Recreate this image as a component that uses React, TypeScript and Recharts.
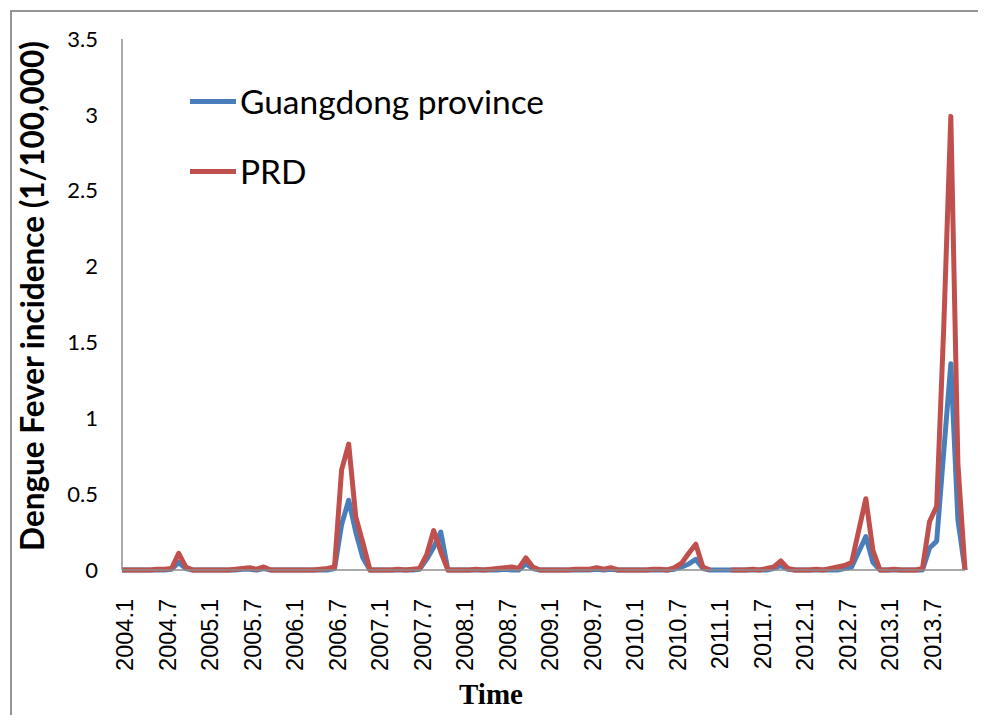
import { LineChart, Line, XAxis, YAxis, Customized } from "recharts";

// month labels 2004.1 ... 2013.12
const years = [2004, 2005, 2006, 2007, 2008, 2009, 2010, 2011, 2012, 2013];
const months = [1, 2, 3, 4, 5, 6, 7, 8, 9, 10, 11, 12];

// Guangdong province, monthly incidence (1/100,000)
const guangdong = [
  0, 0, 0, 0, 0, 0, 0, 0.005, 0.05, 0.01, 0, 0,
  0, 0, 0, 0, 0, 0.005, 0.005, 0, 0.01, 0, 0, 0,
  0, 0, 0, 0, 0, 0, 0.01, 0.3, 0.46, 0.25, 0.08, 0,
  0, 0, 0, 0, 0, 0, 0.005, 0.07, 0.15, 0.25, 0, 0,
  0, 0, 0, 0, 0, 0, 0.005, 0, 0, 0.04, 0.01, 0,
  0, 0, 0, 0, 0, 0, 0, 0.005, 0, 0.005, 0, 0,
  0, 0, 0, 0, 0, 0, 0.005, 0.02, 0.04, 0.07, 0.01, 0,
  0, 0, 0, 0, 0, 0, 0, 0, 0.01, 0.03, 0.005, 0,
  0, 0, 0, 0, 0, 0, 0.01, 0.02, 0.12, 0.22, 0.05, 0,
  0, 0, 0, 0, 0, 0, 0.145, 0.19, 0.78, 1.36, 0.33, 0,
];

// Pearl River Delta
const prd = [
  0, 0, 0, 0, 0, 0.005, 0.005, 0.01, 0.11, 0.02, 0, 0,
  0, 0, 0, 0, 0.005, 0.01, 0.015, 0.005, 0.02, 0, 0, 0,
  0, 0, 0, 0, 0.005, 0.01, 0.02, 0.66, 0.83, 0.35, 0.18, 0,
  0, 0, 0, 0.005, 0, 0.005, 0.01, 0.1, 0.26, 0.12, 0, 0,
  0, 0, 0.005, 0, 0.005, 0.01, 0.015, 0.02, 0.01, 0.08, 0.02, 0,
  0, 0, 0, 0, 0.005, 0.005, 0.005, 0.015, 0.005, 0.015, 0, 0,
  0, 0, 0, 0.005, 0.005, 0, 0.015, 0.045, 0.11, 0.17, 0.02, 0,
  null, null, 0, 0, 0, 0.005, 0, 0.01, 0.02, 0.06, 0.01, 0,
  0, 0, 0.005, 0, 0.01, 0.02, 0.03, 0.05, 0.26, 0.47, 0.13, 0,
  0, 0.005, 0, 0, 0, 0.01, 0.32, 0.42, 1.6, 2.99, 0.7, 0,
];

const yTicks = [0, 0.5, 1, 1.5, 2, 2.5, 3, 3.5];

const BLUE = "#4a7ebb";
const RED = "#c0504d";

const series = [
  { key: "guangdong", name: "Guangdong province", color: BLUE },
  { key: "prd", name: "PRD", color: RED },
];

const data = years.flatMap((yr, yi) =>
  months.map((m, mi) => ({
    month: `${yr}.${m}`,
    guangdong: guangdong[yi * 12 + mi],
    prd: prd[yi * 12 + mi],
  })),
);

const XTick = ({ x, y, payload }: any) => (
  <text
    x={x + 3}
    y={y + 21}
    transform={`rotate(-90, ${x + 3}, ${y + 21})`}
    textAnchor="end"
    dy="0.35em"
    fontFamily="'Liberation Sans', Arial, sans-serif"
    fontSize={23.5}
    fill="#000"
  >
    {payload.value}
  </text>
);

const YTick = ({ y, payload }: any) => (
  <text
    x={86}
    y={y}
    textAnchor="end"
    dy="0.35em"
    fontFamily="Lato, sans-serif"
    fontSize={22}
    fill="#000"
  >
    {payload.value}
  </text>
);

const Titles = () => (
  <g>
    <text
      x={32}
      y={284}
      transform="rotate(-90, 32, 284)"
      textAnchor="middle"
      fontFamily="Lato, sans-serif"
      fontWeight="bold"
      fontSize={31.5}
      fill="#000"
    >
      Dengue Fever incidence (1/100,000)
    </text>
    <text
      x={479}
      y={692}
      textAnchor="middle"
      fontFamily="'Liberation Serif', 'Times New Roman', serif"
      fontWeight="bold"
      fontSize={29}
      fill="#000"
    >
      Time
    </text>
  </g>
);

export default function App() {
  return (
    <div style={{ padding: "2px 0 0 2px" }}>
      <div
        style={{
          position: "relative",
          width: 966,
          height: 703,
          borderLeft: "2px solid #959595",
          borderTop: "2px solid #959595",
          background: "#fff",
        }}
      >
        <LineChart
          width={966}
          height={700}
          data={data}
          margin={{ top: 27, right: 13, left: 0, bottom: 0 }}
        >
          <XAxis
            dataKey="month"
            interval={5}
            height={142}
            tickLine={false}
            stroke="#8c8c8c"
            strokeWidth={1.5}
            padding={{ left: 0, right: 0 }}
            tick={<XTick />}
          />
          <YAxis
            width={110}
            domain={[0, 3.5]}
            ticks={yTicks}
            tickLine={false}
            stroke="#8c8c8c"
            strokeWidth={1.5}
            tick={<YTick />}
          />
          {series.map((s) => (
            <Line
              key={s.key}
              type="linear"
              dataKey={s.key}
              name={s.name}
              stroke={s.color}
              strokeWidth={5}
              strokeLinejoin="round"
              dot={false}
              isAnimationActive={false}
            />
          ))}
          <Customized component={Titles} />
        </LineChart>
        <div
          style={{
            position: "absolute",
            left: 178,
            top: 54,
            fontFamily: "Lato, sans-serif",
            fontSize: 33.5,
            color: "#000",
          }}
        >
          {series.map((s) => (
            <div
              key={s.key}
              style={{ display: "flex", alignItems: "center", height: 70 }}
            >
              <span
                style={{
                  display: "inline-block",
                  width: 46,
                  height: 5,
                  background: s.color,
                  marginRight: 4,
                }}
              />
              <span>{s.name}</span>
            </div>
          ))}
        </div>
      </div>
    </div>
  );
}
